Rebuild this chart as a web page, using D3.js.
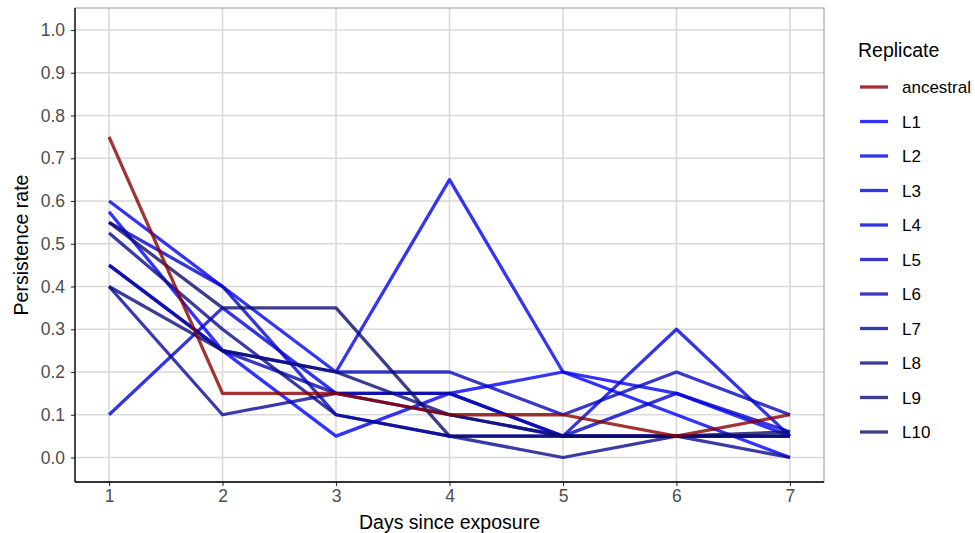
<!DOCTYPE html>
<html><head><meta charset="utf-8">
<script src="https://cdn.jsdelivr.net/npm/d3@7"></script>
<style>body{margin:0;background:#fff;}svg{display:block;font-family:"Liberation Sans",Arial,sans-serif;}</style>
</head><body><div id="chart"></div>
<script>
const days = [1,2,3,4,5,6,7];
const replicates = ["ancestral","L1","L2","L3","L4","L5","L6","L7","L8","L9","L10"];
const ancestral = [0.75,0.15,0.15,0.10,0.10,0.05,0.10];
const L1  = [0.575,0.25,0.05,0.15,0.20,0.10,0.00];
const L2  = [0.60,0.40,0.20,0.65,0.20,0.15,0.05];
const L3  = [0.10,0.35,0.15,0.15,0.05,0.30,0.05];
const L4  = [0.55,0.40,0.10,0.05,0.05,0.15,0.06];
const L5  = [0.45,0.25,0.20,0.20,0.10,0.20,0.10];
const L6  = [0.45,0.25,0.15,0.15,0.05,0.05,0.05];
const L7  = [0.40,0.10,0.15,0.10,0.05,0.05,0.05];
const L8  = [0.525,0.30,0.10,0.05,0.00,0.05,0.00];
const L9  = [0.40,0.25,0.20,0.10,0.05,0.05,0.05];
const L10 = [0.55,0.35,0.35,0.05,0.05,0.05,0.06];
const seriesValues = [ancestral,L1,L2,L3,L4,L5,L6,L7,L8,L9,L10];
const yTicks = [0,0.1,0.2,0.3,0.4,0.5,0.6,0.7,0.8,0.9,1.0];

const W=975,H=533;
const P={l:75,r:824,t:8,b:482};
const svg=d3.select("#chart").append("svg").attr("width",W).attr("height",H);
const x=d3.scaleLinear().domain([0.7,7.3]).range([P.l,P.r]);
const y=d3.scaleLinear().domain([0,1]).range([457.5,30]);

const blueRamp=d3.interpolateRgb("#0000ff","#0d0d6b");
const color=d3.scaleOrdinal().domain(replicates)
  .range(["#8b0000"].concat(d3.range(10).map(i=>blueRamp(i/9))));

const g=svg.append("g");
g.selectAll(".gy").data(yTicks).join("line")
 .attr("x1",P.l).attr("x2",P.r).attr("y1",d=>y(d)).attr("y2",d=>y(d))
 .attr("stroke","#d9d9d9").attr("stroke-width",1.6);
g.selectAll(".gx").data(days).join("line")
 .attr("y1",P.t).attr("y2",P.b).attr("x1",d=>x(d)).attr("x2",d=>x(d))
 .attr("stroke","#d9d9d9").attr("stroke-width",1.6);
g.append("rect").attr("x",P.l).attr("y",P.t).attr("width",P.r-P.l).attr("height",P.b-P.t)
 .attr("fill","none").attr("stroke","#999").attr("stroke-width",1);

const line=d3.line().x((d,i)=>x(days[i])).y(d=>y(d));
const data=replicates.map((r,i)=>({name:r,values:seriesValues[i]}));
svg.append("g").selectAll("path").data(data.slice(1).concat([data[0]])).join("path")
 .attr("d",d=>line(d.values)).attr("fill","none")
 .attr("stroke",d=>color(d.name)).attr("stroke-opacity",0.8)
 .attr("stroke-width",3.3).attr("stroke-linejoin","round");

const xa=svg.append("g").attr("transform",`translate(0,${P.b})`)
 .call(d3.axisBottom(x).tickValues(days).tickFormat(d3.format("d")).tickSize(4).tickPadding(4));
const ya=svg.append("g").attr("transform",`translate(${P.l},0)`)
 .call(d3.axisLeft(y).tickValues(yTicks).tickFormat(d3.format(".1f")).tickSize(4).tickPadding(6));
[xa,ya].forEach(a=>{
  a.select(".domain").remove();
  a.selectAll(".tick line").attr("stroke","#333").attr("stroke-width",1.1);
  a.selectAll(".tick text").attr("fill","#4d4d4d").style("font-size","17.5px");
});
svg.append("line").attr("x1",P.l).attr("x2",P.r).attr("y1",P.b).attr("y2",P.b).attr("stroke","#000").attr("stroke-width",1.3);
svg.append("line").attr("x1",P.l).attr("x2",P.l).attr("y1",P.t).attr("y2",P.b).attr("stroke","#000").attr("stroke-width",1.3);

svg.append("text").attr("x",(P.l+P.r)/2).attr("y",529).attr("text-anchor","middle")
 .style("font-size","19.5px").attr("fill","#000").text("Days since exposure");
svg.append("text").attr("transform",`translate(28,${(P.t+P.b)/2}) rotate(-90)`).attr("text-anchor","middle")
 .style("font-size","19.5px").attr("fill","#000").text("Persistence rate");

const lg=svg.append("g");
lg.append("text").attr("x",858).attr("y",57).style("font-size","19.5px").text("Replicate");
const items=lg.selectAll(".it").data(replicates).join("g").attr("transform",(d,i)=>`translate(0,${87+i*34.5})`);
items.append("line").attr("x1",860).attr("x2",888).attr("stroke",d=>color(d)).attr("stroke-opacity",0.8).attr("stroke-width",3.3);
items.append("text").attr("x",902).attr("y",6).style("font-size","17px").text(d=>d);
</script></body></html>
